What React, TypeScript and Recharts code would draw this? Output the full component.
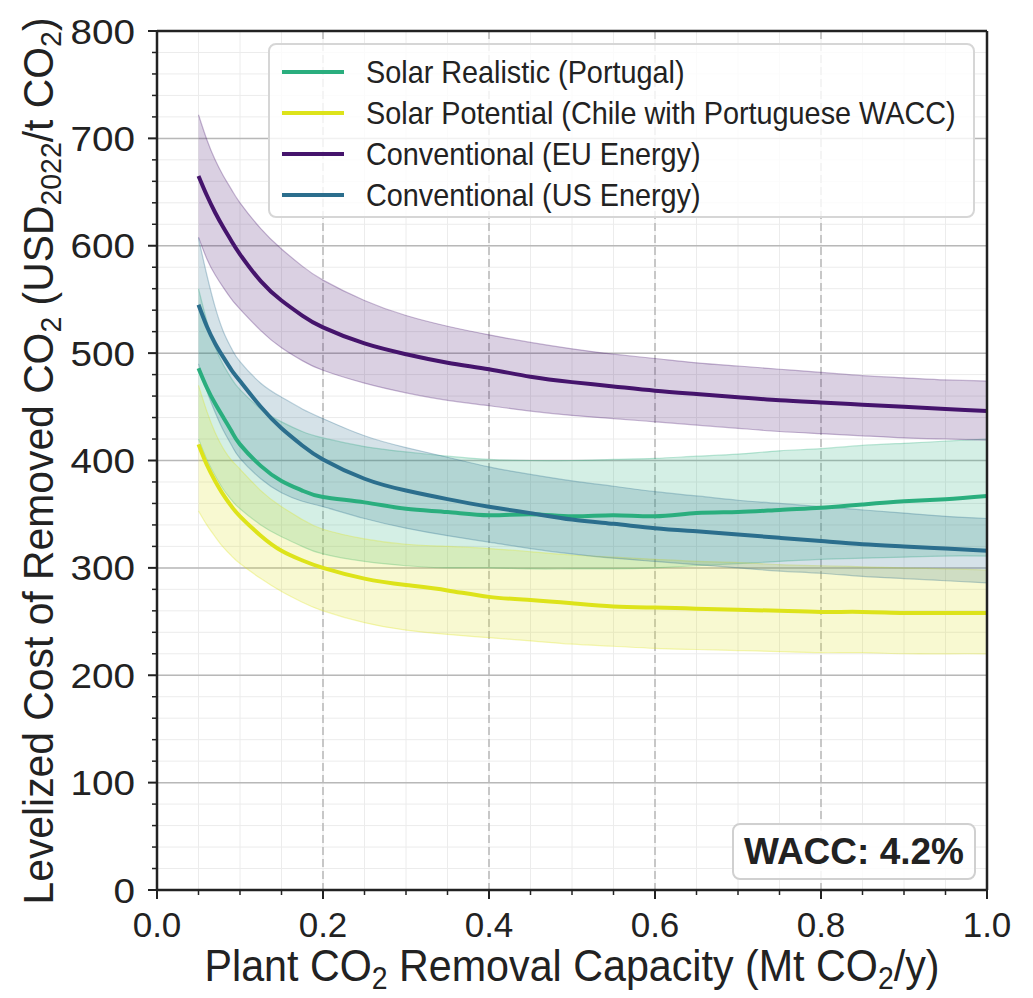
import React from "react";
import { ComposedChart, Area, Line, XAxis, YAxis, CartesianGrid, ReferenceLine } from "recharts";

// capacity in Mt CO2/y
const capacity = [0.05, 0.06, 0.07, 0.08, 0.09, 0.1, 0.125, 0.15, 0.175, 0.2, 0.25, 0.3, 0.35, 0.4, 0.45, 0.5, 0.55, 0.6, 0.65, 0.7, 0.75, 0.8, 0.85, 0.9, 0.95, 1.0];

// Solar Realistic (Portugal)
const srMid = [486, 468, 453, 440, 427, 415, 395, 381, 372, 366, 361, 355, 352, 349, 350, 348, 349, 348, 351, 352, 354, 356, 359, 362, 364, 367];
const srHigh = [560, 530, 506, 489, 476, 466, 448, 436, 427, 421, 413, 408, 404, 401, 400, 400, 401, 402, 404, 406, 409, 411, 414, 416, 418, 420];
const srLow = [420, 401, 386, 373, 363, 355, 340, 329, 320, 313, 306, 302, 300, 300, 299, 299, 299, 300, 302, 304, 306, 308, 309, 310, 311, 311];

// Solar Potential (Chile with Portuguese WACC)
const spMid = [415, 396, 381, 368, 357, 348, 330, 316, 307, 300, 290, 284, 279, 273, 270, 267, 264, 263, 262, 261, 260, 259, 259, 258, 258, 258];
const spHigh = [470, 446, 426, 411, 400, 392, 372, 357, 345, 336, 327, 322, 320, 318, 315, 312, 310, 308, 306, 305, 303, 302, 301, 300, 299, 298];
const spLow = [353, 340, 329, 319, 311, 304, 290, 278, 268, 260, 249, 242, 238, 235, 232, 229, 227, 225, 224, 223, 222, 221, 221, 220, 220, 220];

// Conventional (EU Energy)
const euMid = [665, 647, 631, 617, 604, 592, 567, 549, 535, 524, 509, 499, 491, 485, 478, 473, 469, 465, 462, 459, 456, 454, 452, 450, 448, 446];
const euHigh = [722, 699, 680, 665, 652, 640, 616, 597, 581, 568, 549, 535, 525, 517, 510, 504, 499, 495, 491, 488, 485, 482, 479, 477, 475, 474];
const euLow = [608, 588, 573, 561, 550, 541, 521, 505, 493, 484, 472, 463, 456, 451, 446, 442, 439, 436, 433, 430, 427, 425, 423, 421, 420, 419];

// Conventional (US Energy)
const usMid = [545, 525, 509, 496, 484, 474, 450, 430, 414, 401, 383, 372, 364, 357, 351, 345, 341, 337, 334, 331, 328, 325, 322, 320, 318, 316];
const usHigh = [607, 573, 543, 520, 504, 492, 472, 459, 448, 439, 423, 412, 403, 394, 387, 381, 376, 371, 367, 363, 360, 357, 354, 351, 348, 346];
const usLow = [490, 465, 445, 428, 414, 402, 383, 370, 362, 357, 346, 337, 330, 324, 318, 313, 309, 306, 303, 300, 297, 295, 292, 290, 288, 286];

const yMajor = [0, 100, 200, 300, 400, 500, 600, 700, 800];
const xMajor = [0, 0.2, 0.4, 0.6, 0.8, 1.0];
const yMinor = Array.from({ length: 41 }, (_, i) => i * 20);
const xMinor = Array.from({ length: 21 }, (_, i) => Math.round(i * 5) / 100);

const series = [
  { key: "sr", name: "Solar Realistic (Portugal)", color: "#2aae7e" },
  { key: "sp", name: "Solar Potential (Chile with Portuguese WACC)", color: "#dde31a" },
  { key: "eu", name: "Conventional (EU Energy)", color: "#45146c" },
  { key: "us", name: "Conventional (US Energy)", color: "#2b6e8d" },
];

const data = capacity.map((x, i) => ({
  x,
  sr: srMid[i],
  srBand: [srLow[i], srHigh[i]],
  sp: spMid[i],
  spBand: [spLow[i], spHigh[i]],
  eu: euMid[i],
  euBand: [euLow[i], euHigh[i]],
  us: usMid[i],
  usBand: [usLow[i], usHigh[i]],
}));

const FONT = "'Liberation Sans', Arial, Helvetica, sans-serif";

const YTick = (props: any) => {
  const { x, y, payload } = props;
  const major = payload.value % 100 === 0;
  const label = String(payload.value);
  return (
    <g>
      <line x1={x} x2={x - (major ? 9 : 5)} y1={y} y2={y} stroke="#222" strokeWidth={major ? 2 : 1.5} />
      {major && (
        <text
          x={x - 22}
          y={y}
          dy="0.36em"
          textAnchor="end"
          fontSize={35}
          fill="#222"
          fontFamily={FONT}
          textLength={label.length * 21.5}
          lengthAdjust="spacingAndGlyphs"
        >
          {label}
        </text>
      )}
    </g>
  );
};

const XTick = (props: any) => {
  const { x, y, payload } = props;
  const v = payload.value;
  const major = Math.abs(v * 5 - Math.round(v * 5)) < 1e-6;
  return (
    <g>
      <line x1={x} x2={x} y1={y} y2={y + (major ? 9 : 5)} stroke="#222" strokeWidth={major ? 2 : 1.5} />
      {major && (
        <text x={x} y={y + 47} textAnchor="middle" fontSize={35} fill="#222" fontFamily={FONT}>
          {v.toFixed(1)}
        </text>
      )}
    </g>
  );
};

export default function App() {
  return (
    <div style={{ position: "absolute", left: 0, top: 0, width: 1033, height: 998, background: "#fff", fontFamily: FONT }}>
      <ComposedChart width={1033} height={998} data={data} margin={{ top: 31, right: 46, bottom: 0, left: 0 }}>
        <CartesianGrid stroke="#ececec" strokeWidth={1} horizontalValues={yMinor} verticalValues={xMinor} />
        <CartesianGrid stroke="#b8b8b8" strokeWidth={1.5} horizontalValues={yMajor} vertical={false} />
        <CartesianGrid stroke="#b8b8b8" strokeWidth={1.5} strokeDasharray="8 4" verticalValues={xMajor} horizontal={false} />
        <XAxis
          dataKey="x"
          type="number"
          domain={[0, 1]}
          ticks={xMinor}
          interval={0}
          height={108}
          tickSize={0}
          tickMargin={0}
          tickLine={false}
          tick={<XTick />}
          axisLine={{ stroke: "#222", strokeWidth: 2.5 }}
        />
        <YAxis
          type="number"
          domain={[0, 800]}
          ticks={yMinor}
          interval={0}
          width={157}
          tickSize={0}
          tickMargin={0}
          tickLine={false}
          tick={<YTick />}
          axisLine={{ stroke: "#222", strokeWidth: 2.5 }}
        />
        {series.map((s) => (
          <Area
            key={s.key + "Band"}
            dataKey={s.key + "Band"}
            type="natural"
            fill={s.color}
            fillOpacity={0.2}
            stroke={s.color}
            strokeOpacity={0.3}
            strokeWidth={1.2}
            isAnimationActive={false}
            dot={false}
            activeDot={false}
          />
        ))}
        {series.map((s) => (
          <Line
            key={s.key}
            dataKey={s.key}
            type="natural"
            stroke={s.color}
            strokeWidth={4}
            dot={false}
            activeDot={false}
            isAnimationActive={false}
          />
        ))}
        <ReferenceLine y={800} stroke="#222" strokeWidth={2.5} />
        <ReferenceLine x={1} stroke="#222" strokeWidth={2.5} />
      </ComposedChart>

      <svg width={1033} height={998} style={{ position: "absolute", left: 0, top: 0, pointerEvents: "none" }}>
        <text
          transform="translate(53, 461) rotate(-90)"
          textAnchor="middle"
          fontSize={43}
          fill="#222"
          fontFamily={FONT}
          textLength={887}
          lengthAdjust="spacingAndGlyphs"
        >
          Levelized Cost of Removed CO
          <tspan dy={8} fontSize={30}>2</tspan>
          <tspan dy={-8}> (USD</tspan>
          <tspan dy={8} fontSize={30}>2022</tspan>
          <tspan dy={-8}>/t CO</tspan>
          <tspan dy={8} fontSize={30}>2</tspan>
          <tspan dy={-8}>)</tspan>
        </text>
        <text
          x={572}
          y={981}
          textAnchor="middle"
          fontSize={45}
          fill="#222"
          fontFamily={FONT}
          textLength={735}
          lengthAdjust="spacingAndGlyphs"
        >
          Plant CO
          <tspan dy={8} fontSize={31}>2</tspan>
          <tspan dy={-8}> Removal Capacity (Mt CO</tspan>
          <tspan dy={8} fontSize={31}>2</tspan>
          <tspan dy={-8}>/y)</tspan>
        </text>
      </svg>

      <div
        style={{
          position: "absolute",
          left: 268,
          top: 43,
          width: 703,
          height: 171,
          border: "2px solid #d6d6d6",
          borderRadius: 8,
          background: "rgba(255,255,255,0.8)",
        }}
      >
        {series.map((s, i) => (
          <div key={s.key} style={{ position: "absolute", left: 0, top: 6 + i * 41, height: 41, width: "100%" }}>
            <div style={{ position: "absolute", left: 12, top: 19, width: 62, height: 4, background: s.color }} />
            <div
              style={{
                position: "absolute",
                left: 96,
                top: 2,
                fontSize: 32,
                lineHeight: "38px",
                color: "#222",
                whiteSpace: "nowrap",
                transform: "scaleX(0.9)",
                transformOrigin: "left center",
              }}
            >
              {s.name}
            </div>
          </div>
        ))}
      </div>

      <div
        style={{
          position: "absolute",
          left: 732,
          top: 823,
          width: 240,
          height: 53,
          border: "2px solid #d0d0d0",
          borderRadius: 8,
          background: "rgba(255,255,255,0.85)",
          display: "flex",
          alignItems: "center",
          justifyContent: "center",
          fontSize: 37,
          fontWeight: "bold",
          color: "#222",
        }}
      >
        WACC: 4.2%
      </div>
    </div>
  );
}
